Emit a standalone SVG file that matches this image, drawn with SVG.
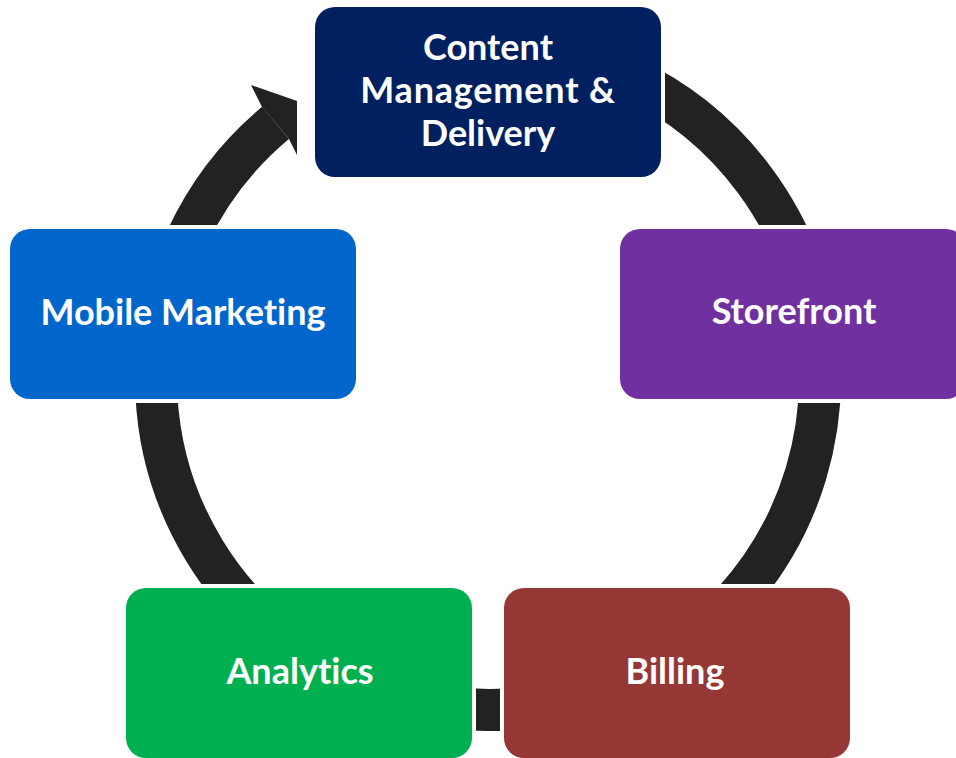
<svg xmlns="http://www.w3.org/2000/svg" width="956" height="758" viewBox="0 0 956 758">
<style>
.halo{fill:#ffffff}
.lbl{font-family:Lato,"Open Sans","Liberation Sans",sans-serif;font-weight:bold;font-size:36px;fill:#ffffff;text-anchor:middle;font-variant-ligatures:none}
.ring{fill:none;stroke:#222222;stroke-width:42}
</style>
<rect width="956" height="758" fill="#ffffff"/>
<g id="connectors">
<path class="ring" d="M 488 46 A 332 332 0 1 1 275.5 122.9"/>
<polygon fill="#222222" points="262,107 251,85 297,101 297,155 289,139"/>
</g>
<g id="content">
<rect class="halo" x="311" y="3" width="354" height="178" rx="24"/>
<rect x="315" y="7" width="346" height="170" rx="20" fill="#002060"/>
<text class="lbl" x="488" y="60">Content</text>
<text class="lbl" x="488" y="103" letter-spacing="0.8">Management &amp;</text>
<text class="lbl" x="488" y="146">Delivery</text>
</g>
<g id="storefront">
<rect class="halo" x="616" y="225" width="354" height="178" rx="24"/>
<rect x="620" y="229" width="346" height="170" rx="20" fill="#7030a0"/>
<text class="lbl" x="794" y="324">Storefront</text>
</g>
<g id="billing">
<rect class="halo" x="500" y="584" width="354" height="178" rx="24"/>
<rect x="504" y="588" width="346" height="170" rx="20" fill="#953735"/>
<text class="lbl" x="675" y="684">Billing</text>
</g>
<g id="analytics">
<rect class="halo" x="122" y="584" width="354" height="178" rx="24"/>
<rect x="126" y="588" width="346" height="170" rx="20" fill="#00b050"/>
<text class="lbl" x="300" y="684">Analytics</text>
</g>
<g id="mobile">
<rect class="halo" x="6" y="225" width="354" height="178" rx="24"/>
<rect x="10" y="229" width="346" height="170" rx="20" fill="#0066cc"/>
<text class="lbl" x="183" y="325">Mobile Marketing</text>
</g>
</svg>
